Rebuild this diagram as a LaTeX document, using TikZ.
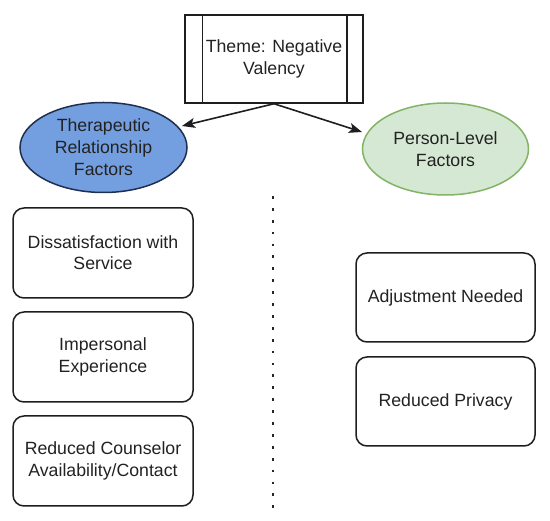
\documentclass[tikz,border=0pt]{standalone}
\usepackage{fontspec}
\setmainfont{Liberation Sans}
\usetikzlibrary{shapes.geometric,arrows.meta}
\definecolor{txt}{HTML}{222222}
\definecolor{edge}{HTML}{1E1E1E}
\definecolor{bluefill}{HTML}{739EDF}
\definecolor{bluedraw}{HTML}{1F2F4F}
\definecolor{greenfill}{HTML}{D5E8D4}
\definecolor{greendraw}{HTML}{82B366}
\tikzset{
  lbl/.style={text=txt, align=center, font=\fontsize{17.7}{22}\selectfont},
  themebox/.style={lbl, draw=edge, line width=1.5pt, minimum width=178pt, minimum height=88pt, inner sep=0pt},
  blueell/.style={lbl, ellipse, draw=bluedraw, fill=bluefill, line width=1.5pt, minimum width=167pt, minimum height=90pt, inner sep=0pt},
  greenell/.style={lbl, ellipse, draw=greendraw, fill=greenfill, line width=1.5pt, minimum width=166pt, minimum height=92pt, inner sep=0pt},
  itembox/.style={lbl, draw=edge, rounded corners=11pt, line width=1.5pt, minimum width=180pt, minimum height=90pt, inner sep=0pt},
  conn/.style={draw=edge, line width=1.6pt, -{Stealth[length=13pt,width=10pt,inset=3pt]}},
  dotline/.style={draw=black!85, line width=2.8pt, dash pattern=on 2.8pt off 9.1pt},
}
\begin{document}
\begin{tikzpicture}[x=1pt,y=-1pt]
\useasboundingbox (0,0) rectangle (550,521);
\node[themebox] (theme) at (274,59) {Theme: Negative\\Valency};
\draw[edge, line width=1.5pt] ([xshift=18pt]theme.north west) -- ([xshift=18pt]theme.south west);
\draw[edge, line width=1.5pt] ([xshift=-17pt]theme.north east) -- ([xshift=-17pt]theme.south east);
\node[blueell] (trf) at (103.5,147.5) {Therapeutic\\Relationship\\Factors};
\node[greenell] (plf) at (445.5,149) {Person-Level\\Factors};
\coordinate (tipl) at (182,126);
\coordinate (tipr) at (362,132);
\draw[conn] (theme.south) -- (tipl);
\draw[conn] (theme.south) -- (tipr);
\node[itembox, font=\fontsize{17.7}{21}\selectfont] (b1) at (103,253) {Dissatisfaction with\\Service};
\node[itembox] (b2) at (103,357) {Impersonal\\Experience};
\node[itembox] (b3) at (103,461) {Reduced Counselor\\Availability/Contact};
\node[itembox, minimum width=179pt, minimum height=89pt] (r1) at (445.5,297.5) {Adjustment Needed};
\node[itembox, minimum width=179pt, minimum height=89pt] (r2) at (445.5,401.5) {Reduced Privacy};
\coordinate (dtop) at (273,196);
\coordinate (dbot) at (273,510);
\draw[dotline] (dtop) -- (dbot);
\end{tikzpicture}
\end{document}
